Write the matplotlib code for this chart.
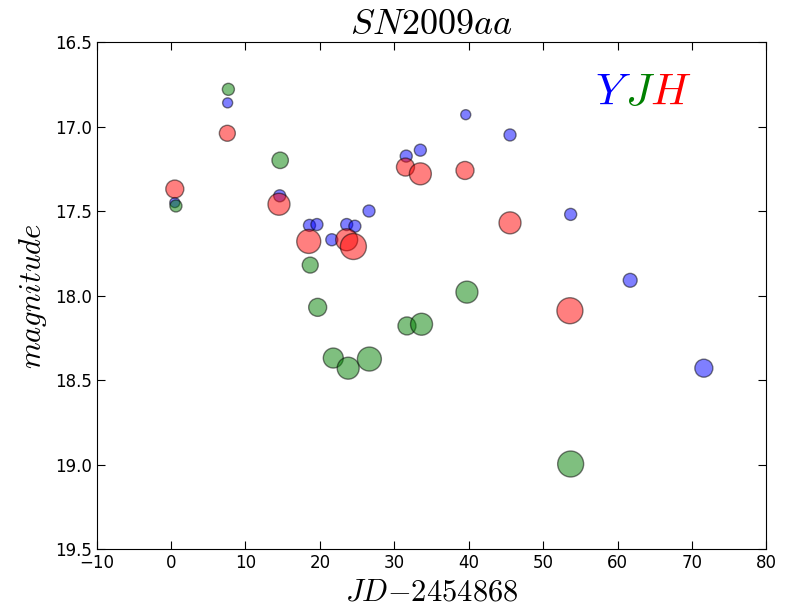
import matplotlib
matplotlib.use('Agg')
import matplotlib.pyplot as plt

plt.rcParams['mathtext.fontset'] = 'cm'
plt.rcParams['font.size'] = 12

# Y band
y_jd = [0.5, 7.6, 14.6, 18.6, 19.6, 21.6, 23.6, 24.7, 26.6, 31.6, 33.5, 39.6, 45.55, 53.7, 61.7, 71.6]
y_mag = [17.45, 16.86, 17.41, 17.585, 17.58, 17.67, 17.58, 17.59, 17.50, 17.175, 17.14, 16.93, 17.05, 17.52, 17.91, 18.43]
y_size = [52, 52, 75, 75, 75, 75, 75, 75, 75, 75, 75, 52, 75, 75, 100, 168]

# J band
j_jd = [0.65, 7.7, 14.66, 18.7, 19.7, 21.8, 23.8, 26.65, 31.7, 33.66, 39.76, 53.7]
j_mag = [17.47, 16.78, 17.20, 17.82, 18.07, 18.37, 18.43, 18.376, 18.18, 18.17, 17.98, 18.997]
j_size = [75, 75, 140, 132, 168, 207, 250, 298, 168, 250, 250, 350]

# H band
h_jd = [0.5, 7.56, 14.5, 18.5, 23.6, 24.5, 31.5, 33.5, 39.5, 45.55, 53.6]
h_mag = [17.37, 17.04, 17.46, 17.68, 17.67, 17.71, 17.24, 17.28, 17.26, 17.57, 18.09]
h_size = [168, 132, 250, 298, 250, 350, 168, 250, 168, 250, 350]

fig = plt.figure(figsize=(7.86, 6.09), dpi=100)
ax = fig.add_axes([0.123, 0.0985, 0.852, 0.8325])

ax.scatter(y_jd, y_mag, s=y_size, c='b', alpha=0.5, edgecolors='k', linewidths=1)
ax.scatter(j_jd, j_mag, s=j_size, c='g', alpha=0.5, edgecolors='k', linewidths=1)
ax.scatter(h_jd, h_mag, s=h_size, c='r', alpha=0.5, edgecolors='k', linewidths=1)

ax.set_xlim(-10, 80)
ax.set_ylim(19.5, 16.5)
ax.set_xticks(range(-10, 81, 10))
ax.set_yticks([16.5, 17.0, 17.5, 18.0, 18.5, 19.0, 19.5])
ax.tick_params(direction='in', top=True, right=True, length=6)

ax.set_title(r'$SN2009aa$', fontsize=26)
ax.set_xlabel(r'$JD{-}2454868$', fontsize=22)
ax.set_ylabel(r'$magnitude$', fontsize=22)

ax.text(57.0, 16.87, r'$Y$', color='b', fontsize=32)
ax.text(61.0, 16.87, r'$J$', color='g', fontsize=32)
ax.text(64.3, 16.87, r'$H$', color='r', fontsize=32)

fig.savefig('out.png', dpi=100)
